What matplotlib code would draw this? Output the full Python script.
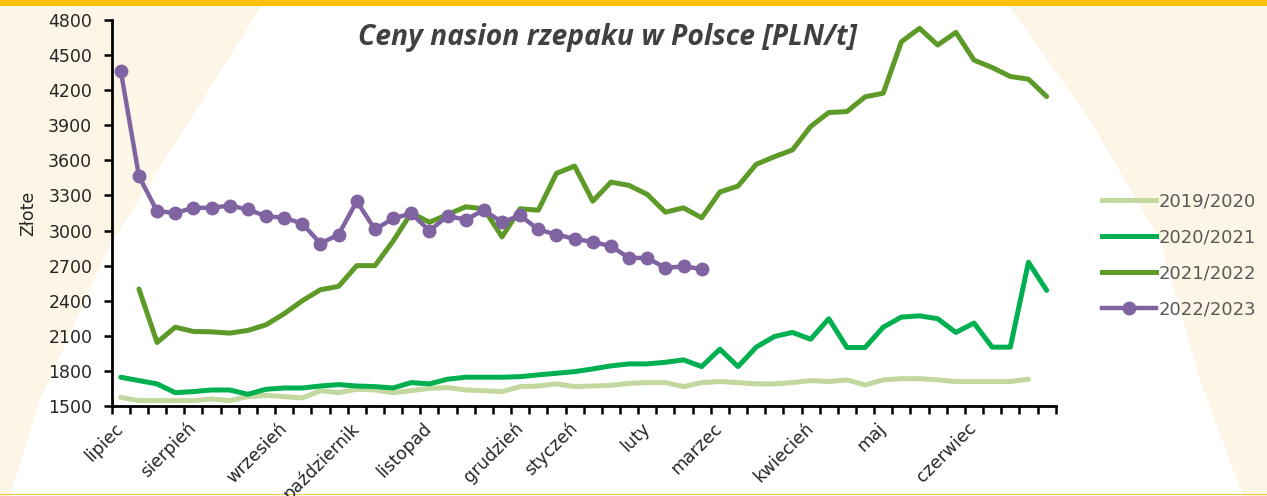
import matplotlib
matplotlib.use("Agg")
import matplotlib.pyplot as plt
import numpy as np
from matplotlib.patches import Polygon, Rectangle
from matplotlib.lines import Line2D

# dane tygodniowe (52 tygodnie, lipiec - czerwiec)
miesiace = ["lipiec", "sierpień", "wrzesień", "październik", "listopad", "grudzień",
            "styczeń", "luty", "marzec", "kwiecień", "maj", "czerwiec"]
pozycje_miesiecy = [0, 4, 9, 13, 17, 22, 25, 29, 33, 38, 42, 47]

sezony = ["2019/2020", "2020/2021", "2021/2022", "2022/2023"]

ceny_2019 = [1574, 1546, 1546, 1546, 1546, 1560, 1546, 1580, 1591, 1580, 1569, 1631, 1614,
             1643, 1637, 1614, 1631, 1651, 1657, 1637, 1631, 1623, 1666, 1671, 1689, 1666,
             1671, 1677, 1694, 1700, 1700, 1666, 1700, 1709, 1700, 1689, 1689, 1700, 1717,
             1709, 1723, 1680, 1723, 1734, 1734, 1723, 1709, 1709, 1709, 1709, 1729]

ceny_2020 = [1746, 1717, 1689, 1614, 1623, 1637, 1637, 1600, 1643, 1654, 1654, 1671, 1683,
             1671, 1666, 1654, 1700, 1689, 1729, 1746, 1746, 1746, 1751, 1766, 1780, 1794,
             1817, 1843, 1860, 1860, 1874, 1894, 1837, 1986, 1837, 2003, 2094, 2129, 2071,
             2246, 2000, 2000, 2174, 2260, 2271, 2246, 2129, 2209, 2003, 2003, 2729, 2489]

# sezon 2021/2022 zaczyna sie od drugiego tygodnia
ceny_2021 = [np.nan, 2500, 2043, 2174, 2137, 2134, 2123, 2146, 2194, 2289, 2400, 2494, 2523,
             2700, 2700, 2909, 3151, 3071, 3137, 3203, 3186, 2946, 3186, 3174, 3489, 3551,
             3251, 3414, 3386, 3309, 3157, 3194, 3109, 3329, 3380, 3566, 3631, 3689, 3889,
             4009, 4017, 4143, 4174, 4614, 4729, 4586, 4694, 4457, 4394, 4317, 4294, 4146]

ceny_2022 = [4365, 3465, 3165, 3151, 3194, 3194, 3214, 3180, 3123, 3109, 3060, 2889, 2966,
             3251, 3009, 3103, 3146, 3000, 3123, 3094, 3174, 3071, 3129, 3009, 2966, 2929,
             2903, 2866, 2766, 2766, 2680, 2694, 2671]

kolory = ["#C3D89F", "#00B050", "#5E9A28", "#8064A2"]

W, H = 1267, 496
fig = plt.figure(figsize=(W / 100, H / 100), dpi=100)
fig.patch.set_facecolor("white")

# tlo - kremowe smugi po bokach, zolty pasek u gory
krem = "#FDF6E7"
fig.patches.append(Polygon([(0, 0), (0, 1), (265 / W, 1), (190 / W, 1 - 120 / H),
                            (110 / W, 1 - 245 / H), (40 / W, 1 - 400 / H), (10 / W, 0)],
                           closed=True, transform=fig.transFigure, facecolor=krem,
                           edgecolor="none", zorder=0))
fig.patches.append(Polygon([(1005 / W, 1), (1, 1), (1, 0),
                            (1243 / W, 0), (1200 / W, 1 - 380 / H), (1160 / W, 1 - 240 / H),
                            (1090 / W, 1 - 120 / H)],
                           closed=True, transform=fig.transFigure, facecolor=krem,
                           edgecolor="none", zorder=0))
fig.patches.append(Rectangle((0, 1 - 6 / H), 1, 6 / H, transform=fig.transFigure,
                             facecolor="#FFC000", edgecolor="none", zorder=1))
fig.patches.append(Rectangle((0, 1 / H), 1, 1.5 / H, transform=fig.transFigure,
                             facecolor="#F0C238", edgecolor="none", zorder=1))

ax = fig.add_axes([111.7 / W, 1 - 406 / H, (1055.7 - 111.7) / W, (406 - 20) / H])
ax.patch.set_alpha(0)
ax.set_zorder(3)

x = np.arange(52)
ax.plot(x[:len(ceny_2019)], ceny_2019, color=kolory[0], lw=3.6, solid_capstyle="round",
        solid_joinstyle="round", label=sezony[0])
ax.plot(x[:len(ceny_2020)], ceny_2020, color=kolory[1], lw=3.6, solid_capstyle="round",
        solid_joinstyle="round", label=sezony[1])
ax.plot(x[:len(ceny_2021)], ceny_2021, color=kolory[2], lw=3.6, solid_capstyle="round",
        solid_joinstyle="round", label=sezony[2])
ax.plot(x[:len(ceny_2022)], ceny_2022, color=kolory[3], lw=3.2, marker="o", ms=9,
        solid_capstyle="round", solid_joinstyle="round", label=sezony[3])

ax.set_xlim(-0.5, 51.5)
ax.set_ylim(1500, 4800)
ax.set_yticks(np.arange(1500, 4801, 300))
ax.tick_params(axis="y", labelsize=12.5, labelcolor="#262626", length=6, width=1.8,
               direction="out", pad=8)

ax.set_xticks(np.arange(-0.5, 52, 1))
ax.set_xticklabels([])
ax.tick_params(axis="x", which="major", length=6, width=1.8, direction="out")
ax.set_xticks(pozycje_miesiecy, minor=True)
ax.set_xticklabels(miesiace, minor=True, rotation=45, ha="right", va="center",
                   rotation_mode="anchor", fontsize=12.5, color="#262626")
ax.tick_params(axis="x", which="minor", length=0, pad=14)

for s in ["top", "right"]:
    ax.spines[s].set_visible(False)
for s in ["left", "bottom"]:
    ax.spines[s].set_linewidth(2)
    ax.spines[s].set_color("black")

ax.set_ylabel("Złote", fontsize=12.5, color="#262626", labelpad=8)

fig.text(608 / W, 1 - 38 / H, "Ceny nasion rzepaku w Polsce [PLN/t]", ha="center",
         va="center", fontsize=20.3, fontweight="bold", fontstyle="italic",
         family="Open Sans", color="#404040", zorder=4)

uchwyty = [Line2D([], [], color=kolory[0], lw=3.6),
           Line2D([], [], color=kolory[1], lw=3.6),
           Line2D([], [], color=kolory[2], lw=3.6),
           Line2D([], [], color=kolory[3], lw=3.2, marker="o", ms=9)]
leg = fig.legend(uchwyty, sezony, loc="upper left", bbox_to_anchor=(1095 / W, 1 - 185 / H),
                 frameon=False, fontsize=13, labelcolor="#595959", handlelength=3.0,
                 handletextpad=0.1, labelspacing=1.0, borderaxespad=0)
leg.set_zorder(4)

fig.savefig("out.png", dpi=100)
